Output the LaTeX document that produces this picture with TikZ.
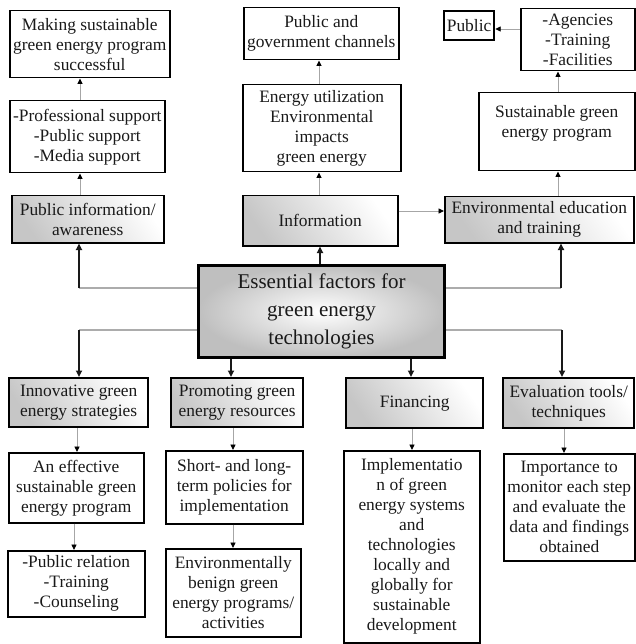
\documentclass[tikz,border=0pt]{standalone}
\usepackage{fontspec}
\setmainfont{Liberation Serif}
\usetikzlibrary{arrows.meta}
\begin{document}
\begin{tikzpicture}[x=1pt,y=-1pt,
  box/.style={draw=black, line width=1.5pt, align=center, inner sep=0pt,
    anchor=north west, text=black!90, font=\fontsize{17.4}{20}\selectfont},
  shadebox/.style={box, top color=white, bottom color=gray!45, shading angle=-55},
  heavybox/.style={shadebox, line width=2.4pt},
  corebox/.style={box, line width=3pt, inner color=white, outer color=gray!50,
    font=\fontsize{21}{28}\selectfont},
  link/.style={draw=gray!70, line width=0.9pt,
    -{Triangle[length=5.5pt,width=5pt,color=black]}},
  trunk/.style={draw=gray!65, line width=1.1pt},
  branch/.style={draw=black!90, line width=2pt,
    -{Triangle[length=6.5pt,width=6pt]}}
]
\useasboundingbox (0,0) rectangle (635,644);

% upper left column
\node[box, minimum width=160, minimum height=67] (mk) at (9,10)
  {Making sustainable\\green energy program\\successful};
\node[box, minimum width=155, minimum height=72] (prof) at (9,100)
  {-Professional support\\-Public support\\-Media support};
\node[shadebox, minimum width=152, minimum height=47] (pia) at (11,195)
  {Public information/\\awareness};

% upper middle column
\node[box, minimum width=155, minimum height=52] (pgc) at (243,7)
  {Public and\\government channels};
\node[box, minimum width=158, minimum height=87] (eu) at (242,84)
  {Energy utilization\\Environmental\\impacts\\green energy};
\node[shadebox, minimum width=155, minimum height=50] (info) at (242,195)
  {Information};

% upper right column
\node[box, line width=2.2pt, minimum width=50, minimum height=29] (pub) at (443,10)
  {Public};
\node[box, minimum width=114, minimum height=62] (ag) at (520,8)
  {-Agencies\\-Training\\-Facilities};
\node[box, minimum width=156, minimum height=78] (sgp) at (478,92)
  {Sustainable green\\energy program\\\mbox{}};
\node[shadebox, minimum width=189, minimum height=46] (eet) at (444,196)
  {Environmental education\\and training};

% central box
\node[corebox, minimum width=246, minimum height=92] (ess) at (197,264)
  {Essential factors for\\green energy\\technologies};

% lower row of headings
\node[heavybox, minimum width=139, minimum height=49] (inn) at (8,377)
  {Innovative green\\energy strategies};
\node[heavybox, minimum width=132, minimum height=49] (prm) at (170,377)
  {Promoting green\\energy resources};
\node[heavybox, minimum width=137, minimum height=50] (fin) at (345,377)
  {Financing};
\node[heavybox, minimum width=131, minimum height=50] (evl) at (502,377)
  {Evaluation tools/\\techniques};

% lower detail boxes
\node[box, minimum width=135, minimum height=70] (eff) at (8,452)
  {An effective\\sustainable green\\energy program};
\node[box, minimum width=137, minimum height=73] (stp) at (165,450)
  {Short- and long-\\term policies for\\implementation};
\node[box, minimum width=136, minimum height=192] (imp) at (343,450)
  {Implementatio\\n of green\\energy systems\\and\\technologies\\locally and\\globally for\\sustainable\\development};
\node[box, minimum width=131, minimum height=107] (imt) at (503,453)
  {Importance to\\monitor each step\\and evaluate the\\data and findings\\obtained};
\node[box, minimum width=137, minimum height=66] (prl) at (7,550)
  {-Public relation\\-Training\\-Counseling};
\node[box, minimum width=135, minimum height=88] (ebg) at (165,548)
  {Environmentally\\benign green\\energy programs/\\activities};

% column and row guides for the connectors
\coordinate (cA) at (80,0);
\coordinate (cB) at (319,0);
\coordinate (cBc) at (320,0);
\coordinate (cC) at (558,0);
\coordinate (cL) at (79,0);
\coordinate (cR) at (561,0);
\coordinate (cRd) at (562,0);
\coordinate (cP) at (231,0);
\coordinate (cF) at (411,0);
\coordinate (cI) at (77,0);
\coordinate (cE) at (74,0);
\coordinate (cS) at (233,0);
\coordinate (cFi) at (412,0);
\coordinate (cEv) at (564,0);
\coordinate (rP) at (0,29);
\coordinate (rI) at (0,211);
\coordinate (rU) at (0,288);
\coordinate (rD) at (0,330);

% thin links between boxes
\draw[link] (cA |- prof.north) -- (cA |- mk.south);
\draw[link] (cA |- pia.north) -- (cA |- prof.south);
\draw[link] (cB |- eu.north) -- (cB |- pgc.south);
\draw[link] (cB |- info.north) -- (cB |- eu.south);
\draw[link] (cC |- eet.north) -- (cC |- sgp.south);
\draw[link] (cC |- sgp.north) -- (cC |- ag.south);
\draw[link] (ag.west |- rP) -- (pub.east |- rP);
\draw[link] (info.east |- rI) -- (eet.west |- rI);
\draw[link] (cI |- inn.south) -- (cI |- eff.north);
\draw[link] (cE |- eff.south) -- (cE |- prl.north);
\draw[link] (cS |- prm.south) -- (cS |- stp.north);
\draw[link] (cS |- stp.south) -- (cS |- ebg.north);
\draw[link] (cFi |- fin.south) -- (cFi |- imp.north);
\draw[link] (cEv |- evl.south) -- (cEv |- imt.north);

% branches leaving the central box
\draw[trunk] (ess.west |- rU) -- (cL |- rU);
\draw[branch] (cL |- rU) -- (cL |- pia.south);
\draw[trunk] (ess.west |- rD) -- (cL |- rD);
\draw[branch] (cL |- rD) -- (cL |- inn.north);
\draw[trunk] (ess.east |- rU) -- (cR |- rU);
\draw[branch] (cR |- rU) -- (cR |- eet.south);
\draw[trunk] (ess.east |- rD) -- (cRd |- rD);
\draw[branch] (cRd |- rD) -- (cRd |- evl.north);
\draw[branch] (cBc |- ess.north) -- (cBc |- info.south);
\draw[branch] (cP |- ess.south) -- (cP |- prm.north);
\draw[branch] (cF |- ess.south) -- (cF |- fin.north);
\end{tikzpicture}
\end{document}
